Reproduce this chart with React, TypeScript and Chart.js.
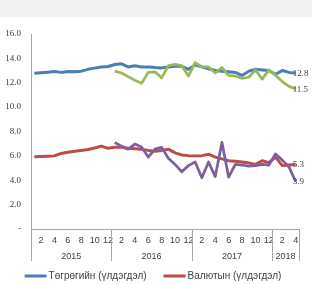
import React, { useEffect, useRef } from "react";
import { Chart, registerables } from "chart.js";

Chart.register(...registerables);

// ---- data ----
const years = ["2015", "2016", "2017", "2018"];
const monthsPerYear = [12, 12, 12, 4];
const monthLabels: string[] = [
  "1", "2", "3", "4", "5", "6", "7", "8", "9", "10", "11", "12",
  "1", "2", "3", "4", "5", "6", "7", "8", "9", "10", "11", "12",
  "1", "2", "3", "4", "5", "6", "7", "8", "9", "10", "11", "12",
  "1", "2", "3", "4",
];

const tugrikBalance = [
  12.77, 12.82, 12.87, 12.93, 12.85, 12.92, 12.9, 12.95, 13.1, 13.2, 13.3, 13.33,
  13.5, 13.55, 13.3, 13.4, 13.3, 13.3, 13.25, 13.22, 13.3, 13.35, 13.35, 13.1,
  13.45, 13.3, 13.15, 13.0, 12.95, 12.9, 12.85, 12.6, 12.95, 13.1, 13.05, 13.0,
  12.7, 13.0, 12.85, 12.8,
];
const tugrikNew = [
  null, null, null, null, null, null, null, null, null, null, null, null,
  12.95, 12.8, 12.5, 12.2, 11.95, 12.85, 12.9, 12.4, 13.4, 13.5, 13.4, 12.55,
  13.65, 13.3, 13.3, 12.8, 13.25, 12.6, 12.55, 12.35, 12.45, 13.05, 12.3, 13.05,
  12.6, 12.1, 11.7, 11.5,
];
const fxBalance = [
  5.93, 5.95, 5.97, 6.0, 6.2, 6.3, 6.38, 6.45, 6.52, 6.65, 6.8, 6.62,
  6.7, 6.7, 6.62, 6.58, 6.55, 6.45, 6.38, 6.45, 6.55, 6.25, 6.08, 6.02,
  6.0, 6.02, 6.14, 5.9, 5.75, 5.6, 5.55, 5.5, 5.42, 5.3, 5.6, 5.45,
  5.9, 5.2, 5.25, 5.3,
];
const fxNew = [
  null, null, null, null, null, null, null, null, null, null, null, null,
  7.1, 6.8, 6.55, 6.97, 6.72, 5.9, 6.56, 6.7, 5.8, 5.3, 4.7, 5.2,
  5.5, 4.2, 5.5, 4.3, 7.1, 4.25, 5.3, 5.25, 5.15, 5.2, 5.3, 5.25,
  6.15, 5.65, 5.1, 3.9,
];
const seriesNames = ["Төгрөгийн (үлдэгдэл)", "Валютын (үлдэгдэл)", "Төгрөгийн (шинэ)", "Валютын (шинэ)"];
const legendSeries = [0, 1];
const yTicks = { min: 0, max: 16, step: 2 };

// ---- styles ----
const BLUE = "#4a7ebb";
const RED = "#be4b48";
const GREEN = "#98b954";
const PURPLE = "#7d5fa0";
const AXIS = "#a6a6a6";
const TEXT = "#404040";
const SERIF = "'Liberation Serif', 'Times New Roman', serif";
const SANS = "'Liberation Sans', Arial, sans-serif";

const chromePlugin = {
  id: "chrome",
  beforeDraw(chart: any) {
    const { ctx, width } = chart;
    ctx.save();
    ctx.fillStyle = "#ffffff";
    ctx.fillRect(0, 0, width, chart.height);
    ctx.fillStyle = "#f2f2f2";
    ctx.fillRect(0, 0, width, 17);
    ctx.restore();
  },
  afterDraw(chart: any) {
    const { ctx, chartArea: area } = chart;
    const xs = chart.scales.x;
    const n = monthLabels.length;
    const boundary = (k: number) => {
      if (k <= 0) return area.left;
      if (k >= n) return area.right;
      return (xs.getPixelForValue(k - 1) + xs.getPixelForValue(k)) / 2;
    };
    ctx.save();
    ctx.strokeStyle = AXIS;
    ctx.lineWidth = 1;
    const y0 = area.bottom;
    const y1 = area.bottom + 32;
    let k = 0;
    const bounds = [0];
    monthsPerYear.forEach((m) => {
      k += m;
      bounds.push(k);
    });
    bounds.forEach((b) => {
      const px = Math.round(boundary(b)) + 0.5;
      ctx.beginPath();
      ctx.moveTo(px, y0);
      ctx.lineTo(px, y1);
      ctx.stroke();
    });
    // year labels
    ctx.fillStyle = TEXT;
    ctx.font = `9px ${SANS}`;
    ctx.textAlign = "center";
    ctx.textBaseline = "middle";
    years.forEach((yr, i) => {
      const cx = (boundary(bounds[i]) + boundary(bounds[i + 1])) / 2;
      ctx.fillText(yr, cx, area.bottom + 28);
    });
    // end labels
    ctx.font = `9px ${SERIF}`;
    ctx.textAlign = "left";
    chart.data.datasets.forEach((ds: any, i: number) => {
      const meta = chart.getDatasetMeta(i);
      const pts = meta.data;
      const last = pts[pts.length - 1];
      const v = ds.data[ds.data.length - 1];
      if (last && v != null) ctx.fillText(Number(v).toFixed(1), last.x - 3, last.y + 0.5);
    });
    // legend
    ctx.font = `10px ${SANS}`;
    const lineLen = 22;
    const gap = 2;
    const spacing = 17;
    const items = legendSeries.map((i) => ({
      ds: chart.data.datasets[i],
      w: lineLen + gap + ctx.measureText(seriesNames[i]).width,
      text: seriesNames[i],
    }));
    const total = items.reduce((s, it) => s + it.w, 0) + spacing * (items.length - 1);
    let x = chart.width / 2 - total / 2 - 3;
    const ly = 276;
    items.forEach((it) => {
      ctx.strokeStyle = it.ds.borderColor;
      ctx.lineWidth = it.ds.borderWidth;
      ctx.beginPath();
      ctx.moveTo(x, ly);
      ctx.lineTo(x + lineLen, ly);
      ctx.stroke();
      ctx.fillStyle = TEXT;
      ctx.fillText(it.text, x + lineLen + gap, ly + 0.5);
      x += it.w + spacing;
    });
    ctx.restore();
  },
};

export default function App() {
  const ref = useRef<HTMLCanvasElement | null>(null);
  useEffect(() => {
    if (!ref.current) return;
    const line = (data: any[], color: string, width: number, order: number) => ({
      data,
      borderColor: color,
      backgroundColor: color,
      borderWidth: width,
      pointRadius: 0,
      pointHoverRadius: 0,
      tension: 0,
      fill: false,
      spanGaps: false,
      order,
      borderJoinStyle: "round" as const,
    });
    const chart = new Chart(ref.current, {
      type: "line",
      data: {
        labels: monthLabels,
        datasets: [
          { label: seriesNames[0], ...line(tugrikBalance, BLUE, 3, 1) },
          { label: seriesNames[1], ...line(fxBalance, RED, 3, 1) },
          { label: seriesNames[2], ...line(tugrikNew, GREEN, 2.75, 0) },
          { label: seriesNames[3], ...line(fxNew, PURPLE, 2.75, 0) },
        ],
      },
      options: {
        responsive: false,
        animation: false,
        events: [],
        layout: { padding: { left: 0, right: 13, top: 34, bottom: 18 } },
        plugins: { legend: { display: false }, tooltip: { enabled: false } },
        scales: {
          x: {
            type: "category",
            offset: true,
            grid: { display: false, drawTicks: false },
            border: { display: true, color: AXIS, width: 1 },
            ticks: {
              autoSkip: false,
              maxRotation: 0,
              padding: 6,
              color: TEXT,
              font: { family: SANS, size: 9 },
              callback: (_v: any, i: number) => (Number(monthLabels[i]) % 2 === 0 ? monthLabels[i] : ""),
            },
            afterFit: (s: any) => {
              s.height = 37;
            },
          },
          y: {
            min: yTicks.min,
            max: yTicks.max,
            grid: { display: false, drawTicks: false },
            border: { display: true, color: AXIS, width: 1 },
            ticks: {
              stepSize: yTicks.step,
              padding: 10,
              color: TEXT,
              font: { family: SERIF, size: 9 },
              callback: (v: any) => (Number(v) === 0 ? "-" : Number(v).toFixed(1)),
            },
            afterFit: (s: any) => {
              s.width = 31;
            },
          },
        },
      },
      plugins: [chromePlugin],
    });
    return () => chart.destroy();
  }, []);
  return (
    <div style={{ position: "absolute", left: 0, top: 0, width: 312, height: 284 }}>
      <canvas ref={ref} width={312} height={284} style={{ display: "block" }} />
    </div>
  );
}
